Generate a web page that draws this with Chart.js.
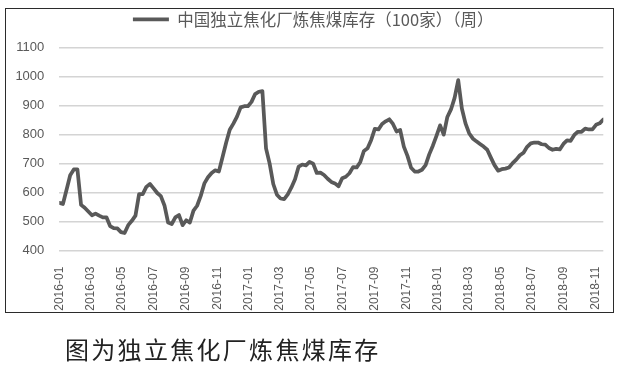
<!DOCTYPE html>
<html><head><meta charset="utf-8">
<script src="https://cdn.jsdelivr.net/npm/chart.js@4/dist/chart.umd.min.js"></script>
<style>
html,body{margin:0;padding:0;background:#fff;width:624px;height:370px;overflow:hidden}
#box{position:absolute;left:5px;top:8px;width:609px;height:305px;border:1.5px solid #2b2b2b;box-sizing:border-box}
#wrap{position:absolute;left:0;top:0;width:624px;height:370px}
#cap{position:absolute;left:65px;top:337px;font:24px/24px "Noto Sans CJK SC";letter-spacing:2.3px;color:#222;white-space:nowrap}
</style></head><body>
<div id="box"></div>
<div id="wrap"><canvas id="c" width="624" height="370"></canvas></div>
<div id="cap">图为独立焦化厂炼焦煤库存</div>
<script>
const seriesName = '中国独立焦化厂炼焦煤库存（100家）（周）';
const weeks = ['2016-01-01','2016-01-08','2016-01-15','2016-01-22','2016-01-29','2016-02-05','2016-02-12','2016-02-19','2016-02-26','2016-03-04','2016-03-11','2016-03-18','2016-03-25','2016-04-01','2016-04-08','2016-04-15','2016-04-22','2016-04-29','2016-05-06','2016-05-13','2016-05-20','2016-05-27','2016-06-03','2016-06-10','2016-06-17','2016-06-24','2016-07-01','2016-07-08','2016-07-15','2016-07-22','2016-07-29','2016-08-05','2016-08-12','2016-08-19','2016-08-26','2016-09-02','2016-09-09','2016-09-16','2016-09-23','2016-09-30','2016-10-07','2016-10-14','2016-10-21','2016-10-28','2016-11-04','2016-11-11','2016-11-18','2016-11-25','2016-12-02','2016-12-09','2016-12-16','2016-12-23','2016-12-30',
'2017-01-06','2017-01-13','2017-01-20','2017-01-27','2017-02-03','2017-02-10','2017-02-17','2017-02-24','2017-03-03','2017-03-10','2017-03-17','2017-03-24','2017-03-31','2017-04-07','2017-04-14','2017-04-21','2017-04-28','2017-05-05','2017-05-12','2017-05-19','2017-05-26','2017-06-02','2017-06-09','2017-06-16','2017-06-23','2017-06-30','2017-07-07','2017-07-14','2017-07-21','2017-07-28','2017-08-04','2017-08-11','2017-08-18','2017-08-25','2017-09-01','2017-09-08','2017-09-15','2017-09-22','2017-09-29','2017-10-06','2017-10-13','2017-10-20','2017-10-27','2017-11-03','2017-11-10','2017-11-17','2017-11-24','2017-12-01','2017-12-08','2017-12-15','2017-12-22','2017-12-29',
'2018-01-05','2018-01-12','2018-01-19','2018-01-26','2018-02-02','2018-02-09','2018-02-16','2018-02-23','2018-03-02','2018-03-09','2018-03-16','2018-03-23','2018-03-30','2018-04-06','2018-04-13','2018-04-20','2018-04-27','2018-05-04','2018-05-11','2018-05-18','2018-05-25','2018-06-01','2018-06-08','2018-06-15','2018-06-22','2018-06-29','2018-07-06','2018-07-13','2018-07-20','2018-07-27','2018-08-03','2018-08-10','2018-08-17','2018-08-24','2018-08-31','2018-09-07','2018-09-14','2018-09-21','2018-09-28','2018-10-05','2018-10-12','2018-10-19','2018-10-26','2018-11-02','2018-11-09','2018-11-16'];
const stock = [565,561,610,660,680,680,558,548,535,522,
528,521,515,515,485,478,477,464,461,488,
503,521,595,595,620,630,615,599,588,556,
497,492,515,523,488,505,497,538,555,589,
632,653,668,677,673,722,772,817,838,862,
894,898,898,913,940,948,950,753,700,630,
593,580,578,594,618,646,690,697,694,706,
700,668,669,661,648,637,632,622,650,655,
667,688,687,706,744,753,782,820,818,837,
846,853,837,811,816,759,727,686,673,673,
679,695,732,762,796,832,800,861,887,927,
988,890,839,805,787,777,768,759,748,721,
695,676,681,683,687,702,714,729,738,758,
770,773,773,767,766,754,748,751,749,768,
780,779,799,810,810,821,818,818,834,839,
852];
const xTickLabels = ['2016-01','2016-03','2016-05','2016-07','2016-09','2016-11','2017-01','2017-03','2017-05','2017-07','2017-09','2017-11','2018-01','2018-03','2018-05','2018-07','2018-09','2018-11'];
const yTicks = [400,500,600,700,800,900,1000,1100];

const t0 = Date.parse(weeks[0]);
const dayOf = s => (Date.parse(s) - t0) / 864e5;
const points = weeks.map((w, i) => ({x: dayOf(w), y: stock[i]}));

const legendShift = {
  id: 'legendShift',
  afterLayout(chart) { const l = chart.legend; if (l) { l.left += 11.5; l.right += 11.5; } }
};

new Chart(document.getElementById('c'), {
  type: 'line',
  data: { datasets: [{
    label: seriesName,
    data: points,
    borderColor: '#595959',
    backgroundColor: '#595959',
    borderWidth: 3.75,
    pointRadius: 0,
    pointStyle: 'line',
    tension: 0,
    borderJoinStyle: 'round',
    borderCapStyle: 'round'
  }]},
  plugins: [legendShift],
  options: {
    responsive: false,
    animation: false,
    devicePixelRatio: 1,
    layout: { padding: { left: 0, right: 20.7, top: 0, bottom: 0 } },
    plugins: {
      legend: {
        position: 'top',
        labels: {
          usePointStyle: true, pointStyle: 'line', pointStyleWidth: 36,
          padding: 11, color: '#595959',
          font: { size: 16.5, family: '"Noto Sans CJK SC"' }
        }
      },
      tooltip: { enabled: false }
    },
    scales: {
      x: {
        type: 'linear',
        min: 0,
        max: dayOf(weeks[weeks.length - 1]),
        afterFit: s => { s.height = 119.3; },
        afterBuildTicks: s => { s.ticks = xTickLabels.map(l => ({value: dayOf(l + '-01')})); },
        grid: { display: false },
        border: { display: false },
        ticks: {
          autoSkip: false, maxRotation: 90, minRotation: 90, padding: 8,
          color: '#595959', font: { size: 12, family: '"Liberation Sans"' },
          callback: (v, i) => xTickLabels[i]
        }
      },
      y: {
        min: 400,
        max: 1135,
        afterFit: s => { s.width = 59.3; },
        afterBuildTicks: s => { s.ticks = yTicks.map(v => ({value: v})); },
        grid: { color: '#d4d4d4', lineWidth: 1.5, drawTicks: false },
        border: { display: false },
        ticks: {
          padding: 15, color: '#595959',
          font: { size: 13, family: '"Liberation Sans"' },
          callback: v => String(v)
        }
      }
    }
  }
});
</script>
</body></html>
